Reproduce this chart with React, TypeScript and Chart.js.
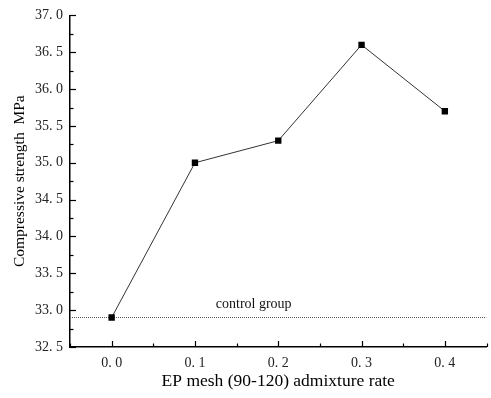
import React, { useEffect, useRef } from "react";
import { Chart, registerables } from "chart.js";

Chart.register(...registerables);

const rates = [0.0, 0.1, 0.2, 0.3, 0.4];
const strength = [32.9, 35.0, 35.3, 36.6, 35.7];
const controlValue = 32.9;
const controlLabel = "control group";
const xTitle = "EP mesh (90-120) admixture rate";
const yTitle = "Compressive strength  MPa";

const fmt = (v: number) => v.toFixed(1).replace(".", ". ");

const innerTicks = {
  id: "innerTicks",
  afterDraw(chart: any) {
    const ctx = chart.ctx;
    const x = chart.scales.x;
    const y = chart.scales.y;
    const area = chart.chartArea;
    ctx.save();
    ctx.strokeStyle = "#000";
    ctx.lineWidth = 1.2;
    for (let i = 0; i <= 18; i++) {
      const v = 32.5 + i * 0.25;
      const py = Math.round(y.getPixelForValue(v)) + 0.5;
      const len = i % 2 === 0 ? 6 : 3.5;
      ctx.beginPath();
      ctx.moveTo(area.left, py);
      ctx.lineTo(area.left + len, py);
      ctx.stroke();
    }
    for (let i = 0; i <= 10; i++) {
      const v = -0.05 + i * 0.05;
      const px = Math.round(x.getPixelForValue(v)) + 0.5;
      const len = i % 2 === 1 ? 6 : 3.5;
      ctx.beginPath();
      ctx.moveTo(px, area.bottom);
      ctx.lineTo(px, area.bottom - len);
      ctx.stroke();
    }
    ctx.fillStyle = "#111";
    ctx.font = "14px 'Liberation Serif'";
    ctx.textAlign = "left";
    ctx.textBaseline = "bottom";
    ctx.fillText(controlLabel, x.getPixelForValue(0.125), y.getPixelForValue(controlValue) - 6);
    ctx.restore();
  },
};

export default function App() {
  const ref = useRef<HTMLCanvasElement | null>(null);
  useEffect(() => {
    if (!ref.current) return;
    const chart = new Chart(ref.current, {
      type: "scatter",
      data: {
        datasets: [
          {
            data: rates.map((r, i) => ({ x: r, y: strength[i] })),
            showLine: true,
            borderColor: "#333",
            borderWidth: 1,
            pointStyle: "rect",
            pointRadius: 4.5,
            pointBackgroundColor: "#000",
            pointBorderColor: "#000",
            pointBorderWidth: 0,
          },
          {
            data: [
              { x: -0.05, y: controlValue },
              { x: 0.45, y: controlValue },
            ],
            showLine: true,
            borderColor: "#555",
            borderWidth: 1,
            borderDash: [1, 1],
            pointRadius: 0,
          },
        ],
      },
      options: {
        animation: false,
        responsive: false,
        maintainAspectRatio: false,
        layout: { padding: { top: 13, right: -2, left: 8, bottom: 6 } },
        plugins: { legend: { display: false }, tooltip: { enabled: false } },
        scales: {
          x: {
            type: "linear",
            min: -0.05,
            max: 0.45,
            afterBuildTicks: (s: any) => {
              s.ticks = rates.map((v) => ({ value: v }));
            },
            ticks: {
              callback: (v: any) => fmt(Number(v)),
              font: { family: "'Liberation Serif'", size: 14 },
              color: "#222",
              padding: 8,
              maxRotation: 0,
            },
            grid: { display: false, drawTicks: false },
            border: { display: true, color: "#000", width: 1.5 },
            title: {
              display: true,
              text: xTitle,
              font: { family: "'Liberation Serif'", size: 17.5 },
              color: "#000",
              padding: { top: 4, bottom: 0 },
            },
            afterFit: (s: any) => {
              s.height = 45;
            },
          },
          y: {
            type: "linear",
            min: 32.5,
            max: 37.0,
            ticks: {
              stepSize: 0.5,
              callback: (v: any) => fmt(Number(v)),
              font: { family: "'Liberation Serif'", size: 14 },
              color: "#222",
              padding: 7,
            },
            grid: { display: false, drawTicks: false },
            border: { display: true, color: "#000", width: 1.5 },
            title: {
              display: true,
              text: yTitle,
              font: { family: "'Liberation Serif'", size: 15.5 },
              color: "#000",
              padding: { top: 3, bottom: 1 },
            },
            afterFit: (s: any) => {
              s.width = 62;
            },
          },
        },
      },
      plugins: [innerTicks],
    });
    return () => chart.destroy();
  }, []);
  return (
    <div style={{ position: "fixed", left: 0, top: 0, width: 491, height: 398, background: "#fff" }}>
      <canvas ref={ref} width={491} height={398} style={{ width: 491, height: 398 }} />
    </div>
  );
}
